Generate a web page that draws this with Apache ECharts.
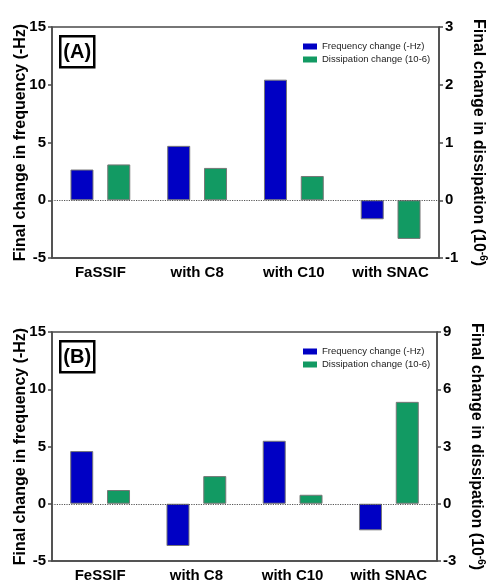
<!DOCTYPE html>
<html>
<head>
<meta charset="utf-8">
<title>Final change in frequency and dissipation</title>
<script src="https://cdn.jsdelivr.net/npm/echarts@6/dist/echarts.min.js"></script>
<style>
  html, body { margin: 0; padding: 0; background: #fff; }
  #chart { width: 493px; height: 582px; }
</style>
</head>
<body>
<div id="chart"></div>
<script>
// data
var categoriesA = ['FaSSIF', 'with C8', 'with C10', 'with SNAC'];
var freqA = [2.66, 4.71, 10.44, -1.65];
var dissA = [0.62, 0.56, 0.42, -0.67];

var categoriesB = ['FeSSIF', 'with C8', 'with C10', 'with SNAC'];
var freqB = [4.6, -3.69, 5.5, -2.32];
var dissB = [0.72, 1.45, 0.47, 5.34];

var leftTicks = { min: -5, max: 15, interval: 5 };
var rightTicksA = { min: -1, max: 3, interval: 1 };
var rightTicksB = { min: -3, max: 9, interval: 3 };

var FONT = '"Liberation Sans", Arial, sans-serif';
var AXIS = '#4a4a4a';
var BLUE = '#0000c4';
var GREEN = '#129a63';

function xAxisFor(grid, cats) {
    return {
        type: 'category',
        gridIndex: grid,
        data: cats,
        axisLine: { onZero: false, lineStyle: { color: AXIS, width: 1.5 } },
        axisTick: { alignWithLabel: true, length: 4, lineStyle: { color: AXIS, width: 1.5 } },
        axisLabel: { interval: 0, color: '#000', fontFamily: FONT, fontWeight: 'bold', fontSize: 15, margin: 7 }
    };
}

function yAxisFor(grid, t, side) {
    var ax = {
        type: 'value',
        gridIndex: grid,
        position: side,
        min: t.min, max: t.max, interval: t.interval,
        splitLine: { show: false },
        axisLine: { show: true, lineStyle: { color: AXIS, width: 1.5 } },
        axisTick: { show: true, length: 4, lineStyle: { color: AXIS, width: 1.5 } },
        axisLabel: { color: '#000', fontFamily: FONT, fontWeight: 'bold', fontSize: 15, margin: 6 },
        nameLocation: 'middle',
        nameMoveOverlap: false,
        nameTextStyle: { color: '#000', fontFamily: FONT, fontWeight: 'bold', fontSize: 16 }
    };
    if (side === 'left') {
        ax.name = 'Final change in frequency (-Hz)';
        ax.nameGap = 23.5;
    } else {
        ax.name = '{a|Final change in dissipation (10}{s|-6}{a|)}';
        ax.nameRotate = -90;
        ax.nameGap = 29;
        ax.nameTextStyle.rich = {
            a: { fontFamily: FONT, fontWeight: 'bold', fontSize: 16, color: '#000', lineHeight: 20 },
            s: { fontFamily: FONT, fontWeight: 'bold', fontSize: 10, color: '#000', verticalAlign: 'top', lineHeight: 20 }
        };
    }
    return ax;
}

function barSeries(name, data, xi, yi, color, withZero) {
    var s = {
        name: name,
        type: 'bar',
        xAxisIndex: xi,
        yAxisIndex: yi,
        data: data,
        barWidth: 23,
        barGap: '60%',
        itemStyle: { color: color, borderColor: '#777', borderWidth: 1 }
    };
    if (withZero) {
        s.markLine = {
            silent: true,
            symbol: ['none', 'none'],
            label: { show: false },
            lineStyle: { color: '#555', type: 'dotted', width: 1.2 },
            data: [{ yAxis: 0 }]
        };
    }
    return s;
}

function legendAt(top) {
    return {
        orient: 'vertical',
        left: 298,
        top: top,
        icon: 'rect',
        itemWidth: 14,
        itemHeight: 6,
        itemGap: 2,
        itemStyle: { borderWidth: 0 },
        data: ['Frequency change (-Hz)', 'Dissipation change (10-6)'],
        textStyle: { fontFamily: FONT, fontSize: 9.5, color: '#222', lineHeight: 11 }
    };
}

function panelTag(text, x, y) {
    return {
        type: 'group',
        left: x,
        top: y,
        children: [
            { type: 'rect', shape: { x: 0, y: 0, width: 34, height: 31 },
              style: { fill: '#fff', stroke: '#000', lineWidth: 2.5 } },
            { type: 'text', style: { x: 17, y: 16, text: text, fill: '#000',
              font: 'bold 20px ' + FONT, textAlign: 'center', textVerticalAlign: 'middle' } }
        ]
    };
}

var chart = echarts.init(document.getElementById('chart'), null, { renderer: 'canvas' });

chart.setOption({
    backgroundColor: '#fff',
    animation: false,
    grid: [
        { left: 52, right: 54, top: 27, height: 231, show: true, borderColor: AXIS, borderWidth: 1.5, outerBoundsMode: 'none' },
        { left: 52, right: 56, top: 332, height: 229, show: true, borderColor: AXIS, borderWidth: 1.5, outerBoundsMode: 'none' }
    ],
    legend: [legendAt(36), legendAt(341)],
    xAxis: [xAxisFor(0, categoriesA), xAxisFor(1, categoriesB)],
    yAxis: [
        yAxisFor(0, leftTicks, 'left'),
        yAxisFor(0, rightTicksA, 'right'),
        yAxisFor(1, leftTicks, 'left'),
        yAxisFor(1, rightTicksB, 'right')
    ],
    series: [
        barSeries('Frequency change (-Hz)', freqA, 0, 0, BLUE, true),
        barSeries('Dissipation change (10-6)', dissA, 0, 1, GREEN, false),
        barSeries('Frequency change (-Hz)', freqB, 1, 2, BLUE, true),
        barSeries('Dissipation change (10-6)', dissB, 1, 3, GREEN, false)
    ],
    graphic: [panelTag('(A)', 59, 35), panelTag('(B)', 59, 340)]
});
</script>
</body>
</html>
